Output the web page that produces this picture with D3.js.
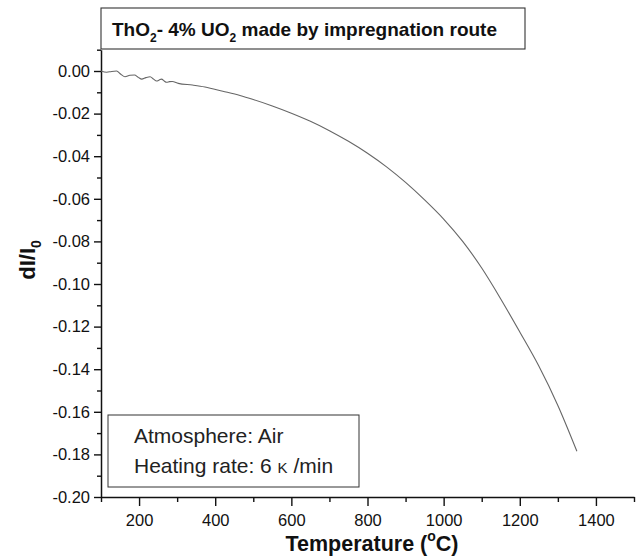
<!DOCTYPE html>
<html>
<head>
<meta charset="utf-8">
<script src="https://cdn.jsdelivr.net/npm/d3@7"></script>
<style>
  html, body { margin: 0; padding: 0; background: #fff; }
  svg { display: block; font-family: "Liberation Sans", Arial, sans-serif; }
</style>
</head>
<body>
<svg id="chart" width="640" height="558"></svg>
<script>
// Dilatometry trace: relative length change vs temperature
const temperature = [100, 115, 128, 141, 152, 163, 176, 188, 198, 207, 218, 229, 238, 246, 253, 259, 266, 272, 280, 287,
  303, 340, 373, 420, 465, 500, 550, 600, 650, 700, 750, 800, 850, 900, 950, 1000, 1050, 1100, 1150, 1200, 1250, 1300, 1350];
const dLL0 = [0.0000, -0.0006, -0.0002, 0.0000, -0.0015, -0.0027, -0.0020, -0.0019, -0.0030, -0.0038, -0.0031, -0.0027,
  -0.0038, -0.0047, -0.0042, -0.0038, -0.0047, -0.0053, -0.0050, -0.0049,
  -0.0058, -0.0066, -0.0075, -0.0095, -0.0115, -0.0134, -0.0164, -0.0198, -0.0236, -0.0280, -0.0330, -0.0386,
  -0.0450, -0.0523, -0.0605, -0.0695, -0.0800, -0.0925, -0.1070, -0.1225, -0.1385, -0.1570, -0.1785];

const xMajorTicks = [200, 400, 600, 800, 1000, 1200, 1400];
const xMinorTicks = [100, 300, 500, 700, 900, 1100, 1300, 1500];
const yMajorTicks = [0.00, -0.02, -0.04, -0.06, -0.08, -0.10, -0.12, -0.14, -0.16, -0.18, -0.20];
const yMinorTicks = [0.01, -0.01, -0.03, -0.05, -0.07, -0.09, -0.11, -0.13, -0.15, -0.17, -0.19];

const titleParts = [["ThO", false], ["2", true], ["- 4% UO", false], ["2", true], [" made by impregnation route", false]];
const atmosphereText = "Atmosphere: Air";
const rateParts = [["Heating rate: 6 ", false], ["K", true], [" /min", false]];

const svg = d3.select("#chart");
const x = d3.scaleLinear().domain([100, 1500]).range([101, 634]);
const y = d3.scaleLinear().domain([-0.20, 0.01]).range([497, 49.7]);

const fmt = d => (Math.abs(d) < 1e-9 ? 0 : d).toFixed(2);

// X axis: major labelled ticks + unlabelled minor ticks
const gx = svg.append("g").attr("transform", `translate(0,${y(-0.20)})`);
gx.call(d3.axisBottom(x).tickValues(xMajorTicks).tickSize(9).tickSizeOuter(0).tickPadding(8).tickFormat(d3.format("d")));
gx.append("g").call(d3.axisBottom(x).tickValues(xMinorTicks).tickSize(5).tickSizeOuter(0).tickFormat(""))
  .select(".domain").remove();

// Y axis
const gy = svg.append("g").attr("transform", `translate(${x(100)},0)`);
gy.call(d3.axisLeft(y).tickValues(yMajorTicks).tickSize(7).tickSizeOuter(0).tickPadding(4).tickFormat(fmt));
gy.append("g").call(d3.axisLeft(y).tickValues(yMinorTicks).tickSize(4).tickSizeOuter(0).tickFormat(""))
  .select(".domain").remove();

svg.selectAll(".domain").attr("stroke", "#111").attr("stroke-width", 1.5);
svg.selectAll(".tick line").attr("stroke", "#111").attr("stroke-width", 1.4);
svg.selectAll(".tick text").attr("font-size", 16.5).attr("fill", "#111")
  .attr("font-family", "'Liberation Sans', Arial, sans-serif");

// Curve
const line = d3.line().x((d, i) => x(temperature[i])).y(d => y(d)).curve(d3.curveMonotoneX);
svg.append("path").datum(dLL0).attr("d", line)
  .attr("fill", "none").attr("stroke", "#666").attr("stroke-width", 1.1);

// Axis titles
const yt = svg.append("text").attr("transform", `translate(35,260) rotate(-90)`)
  .attr("text-anchor", "middle").attr("font-size", 22).attr("font-weight", "bold").attr("fill", "#111");
yt.append("tspan").text("dI/I");
yt.append("tspan").attr("font-size", 14).attr("dy", 6).text("0");

const xt = svg.append("text").attr("x", 372).attr("y", 551)
  .attr("text-anchor", "middle").attr("font-size", 21.5).attr("font-weight", "bold").attr("fill", "#111");
xt.append("tspan").text("Temperature (");
xt.append("tspan").attr("font-size", 14).attr("dy", -10).text("o");
xt.append("tspan").attr("dy", 10).text("C)");

// Title box
svg.append("rect").attr("x", 101).attr("y", 8).attr("width", 424).attr("height", 41)
  .attr("fill", "#fff").attr("stroke", "#333").attr("stroke-width", 1.1);
const tt = svg.append("text").attr("x", 112).attr("y", 36)
  .attr("font-size", 19).attr("font-weight", "bold").attr("fill", "#111");
titleParts.forEach(([s, sub], i) => {
  const prevSub = i > 0 && titleParts[i - 1][1];
  tt.append("tspan").attr("font-size", sub ? 12 : 19)
    .attr("dy", sub ? 6 : (prevSub ? -6 : 0)).text(s);
});

// Conditions box
svg.append("rect").attr("x", 108).attr("y", 415).attr("width", 251).attr("height", 72)
  .attr("fill", "#fff").attr("stroke", "#333").attr("stroke-width", 1);
svg.append("text").attr("x", 134).attr("y", 443)
  .attr("font-size", 21).attr("fill", "#222").text(atmosphereText);
const rt = svg.append("text").attr("x", 134).attr("y", 473)
  .attr("font-size", 21).attr("fill", "#222");
rateParts.forEach(([s, small]) => rt.append("tspan").attr("font-size", small ? 15 : 21).text(s));
</script>
</body>
</html>
